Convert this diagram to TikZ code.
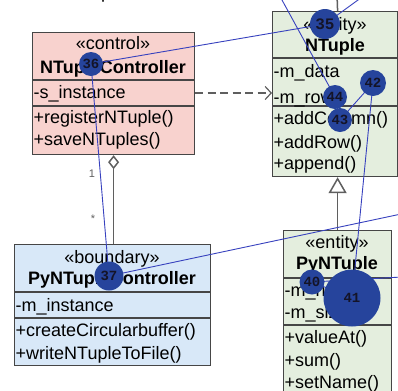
\documentclass[tikz,border=0pt]{standalone}
\usepackage{fontspec}
\setmainfont{Liberation Sans}
\newfontfamily\numfont{Liberation Mono}
\usetikzlibrary{arrows.meta}

\definecolor{ctlfill}{RGB}{248,210,206}
\definecolor{bndfill}{RGB}{216,232,248}
\definecolor{entfill}{RGB}{228,238,222}
\definecolor{frame}{RGB}{70,70,70}
\definecolor{linkgray}{RGB}{95,95,95}
\definecolor{dotblue}{RGB}{38,68,156}
\definecolor{pathblue}{RGB}{55,65,190}
\definecolor{dottext}{RGB}{20,20,40}

\begin{document}
\begin{tikzpicture}[x=1bp,y=-1bp,
  box/.style={draw=frame, line width=1.2bp, inner sep=0, anchor=north west},
  sep/.style={draw=frame, line width=1.2bp},
  lbl/.style={font=\fontsize{18bp}{20bp}\selectfont, inner sep=0, anchor=base west},
  ttl/.style={font=\fontsize{18bp}{20bp}\selectfont, inner sep=0, anchor=base},
  ttlb/.style={font=\bfseries\fontsize{18bp}{20bp}\selectfont, inner sep=0, anchor=base},
  mult/.style={font=\fontsize{11bp}{11bp}\selectfont, text=linkgray, inner sep=0},
  dot/.style={circle, fill=dotblue, inner sep=0,
    font=\numfont\bfseries\fontsize{14bp}{14bp}\selectfont, text=dottext},
  bigno/.style={font=\numfont\bfseries\fontsize{16bp}{16bp}\selectfont},
  scan/.style={draw=pathblue, line width=0.9bp},
  ]

\useasboundingbox (0,0) rectangle (398,391);

% descender of a caption line above the frame
\node[ttl, anchor=base west] (cap) at (101,-1.5) {p};

% ---------- class boxes ----------
\node[box, fill=ctlfill, minimum width=162bp, minimum height=122bp] (ctl) at (32,32) {};
\draw[sep] (32,80) -- (194,80);
\draw[sep] (32,106) -- (194,106);
\node[ttl]  (ctlst) at (113,49) {«control»};
\node[ttlb] (ctlnm) at (113,73) {NTupleController};
\node[lbl]  (ctla1) at (33.5,98) {-s\_instance};
\node[lbl]  (ctlm1) at (33.5,123) {+registerNTuple()};
\node[lbl]  (ctlm2) at (33.5,145) {+saveNTuples()};

\node[box, fill=bndfill, minimum width=196bp, minimum height=121bp] (pyc) at (14,244) {};
\draw[sep] (14,292) -- (210,292);
\draw[sep] (14,318) -- (210,318);
\node[ttl]  (pycst) at (112,263) {«boundary»};
\node[ttlb] (pycnm) at (112,284) {PyNTupleController};
\node[lbl]  (pyca1) at (15.5,311) {-m\_instance};
\node[lbl]  (pycm1) at (15.5,336) {+createCircularbuffer()};
\node[lbl]  (pycm2) at (15.5,359) {+writeNTupleToFile()};

\node[box, fill=entfill, minimum width=125bp, minimum height=165bp] (nt) at (272,11) {};
\draw[sep] (272,58) -- (397,58);
\draw[sep] (272,106) -- (397,106);
\node[ttl]  (ntst) at (335,30) {«entity»};
\node[ttlb] (ntnm) at (335,51) {NTuple};
\node[lbl]  (nta1) at (273.5,77) {-m\_data};
\node[lbl]  (nta2) at (273.5,103) {-m\_rows};
\node[lbl]  (ntm1) at (273.5,124) {+addColumn()};
\node[lbl]  (ntm2) at (273.5,148) {+addRow()};
\node[lbl]  (ntm3) at (273.5,169) {+append()};

\node[box, fill=entfill, minimum width=108bp, minimum height=170bp] (pnt) at (283,230) {};
\draw[sep] (283,278) -- (391,278);
\draw[sep] (283,325) -- (391,325);
\node[ttl]  (pntst) at (337,248) {«entity»};
\node[ttlb] (pntnm) at (337,269) {PyNTuple};
\node[lbl]  (pnta1) at (284.5,296) {-m\_name};
\node[lbl]  (pnta2) at (284.5,318) {-m\_size};
\node[lbl]  (pntm1) at (284.5,343) {+valueAt()};
\node[lbl]  (pntm2) at (284.5,366) {+sum()};
\node[lbl]  (pntm3) at (284.5,388) {+setName()};

% ---------- relations ----------
\coordinate (rowref) at (0,93);
\coordinate (upref) at (337,-6);

\draw[linkgray, line width=1.5bp, {Diamond[open, length=14bp, width=11bp]}-]
  (ctl.south) -- (ctl.south |- pyc.north);
\node[mult] (m1) at (92,174) {1};
\node[mult] (m2) at (93,219) {*};

\draw[linkgray, line width=1.5bp, -{Triangle[fill=white, length=16bp, width=18bp]}]
  (pnt.north) -- (pnt.north |- nt.south);
\draw[linkgray, line width=1.5bp] (pnt.north |- nt.north) -- (upref);

\draw[linkgray, line width=1.2bp, dash pattern=on 8bp off 4.5bp,
  -{Straight Barb[length=6bp, width=13bp]}]
  (ctl.east |- rowref) -- (nt.west |- rowref);

% ---------- fixation path ----------
\coordinate (f34) at (380,-16);
\coordinate (f38) at (420,210);
\coordinate (f39) at (420,276);
\coordinate (f45) at (276,-11);

\coordinate (p35) at (325,24);
\coordinate (p36) at (91,64);
\coordinate (p37) at (109,276);
\coordinate (p40) at (312,282);
\coordinate (p41) at (352,298);
\coordinate (p42) at (373,83);
\coordinate (p43) at (340,120);
\coordinate (p44) at (335,97);

\draw[scan] (f34) -- (p35) -- (p36) -- (p37) -- (f38);
\draw[scan] (f39) -- (p40) -- (p41) -- (p42) -- (p43) -- (p44) -- (f45);

\node[dot, bigno, minimum size=30bp] (d35) at (p35) {35};
\node[dot, minimum size=24bp] (d36) at (p36) {36};
\node[dot, minimum size=29bp] (d37) at (p37) {37};
\node[dot, minimum size=25bp] (d40) at (p40) {40};
\node[dot, minimum size=57bp] (d41) at (p41) {41};
\node[dot, minimum size=26bp] (d42) at (p42) {42};
\node[dot, minimum size=24bp] (d44) at (p44) {44};
\node[dot, minimum size=24bp] (d43) at (p43) {43};
\end{tikzpicture}
\end{document}
